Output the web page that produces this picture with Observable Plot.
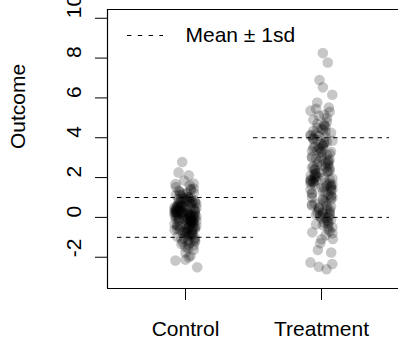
<!DOCTYPE html>
<html>
<head>
<meta charset="utf-8">
<script src="https://cdn.jsdelivr.net/npm/d3@7"></script>
<script src="https://cdn.jsdelivr.net/npm/@observablehq/plot@0.6"></script>
<style>
  html, body { margin: 0; padding: 0; background: #fff; }
  svg { display: block; }
</style>
</head>
<body>
<div id="chart"></div>
<script>
const categories = ["Control", "Treatment"];
const categoryPositions = [1, 2];
const yTicks = [-2, 0, 2, 4, 6, 8, 10];
const yLabel = "Outcome";
const legendLabel = "Mean \u00b1 1sd";
const meanMinusSd = [-1, 0];
const meanPlusSd = [1, 4];

const controlY = [
  0.12, -0.45, 0.83, -0.07, 0.36, -0.91, 0.54, 1.12, -0.28, 0.03,
  -1.34, 0.67, -0.62, 0.21, 1.45, -0.15, 0.48, -0.77, 0.95, -0.38,
  0.09, -1.05, 0.31, 0.72, -0.53, 1.28, -0.19, 0.58, -0.84, 0.14,
  -0.02, 1.03, -1.22, 0.41, -0.66, 0.25, 0.88, -0.31, -0.97, 0.62,
  0.05, -0.47, 1.61, -0.12, 0.37, -1.48, 0.76, -0.24, 0.19, -0.71,
  1.19, 0.44, -0.58, -0.09, 0.99, -1.15, 0.28, 0.66, -0.36, -0.81,
  0.16, 1.34, -0.49, 0.07, -1.28, 0.53, -0.17, 0.85, -0.63, 0.33,
  -0.04, 1.07, -0.95, 0.46, -1.62, 0.22, 0.79, -0.27, 0.11, -0.74,
  1.52, 0.39, -0.55, 0.01, -1.09, 0.61, -0.21, 0.92, -0.42, 0.18,
  1.24, -0.86, 0.47, -0.13, -1.38, 0.71, 0.27, -0.60, 0.04, -0.33,
  1.85, -1.02, 0.56, -0.19, 0.35, -0.70, 0.13, 1.15, -0.44, -1.19,
  0.81, -0.08, 0.42, -0.89, 0.24, 0.68, -1.55, 0.15, -0.26, 0.97,
  -0.51, 0.30, 1.39, -0.11, -0.79, 0.51, -1.12, 0.08, 0.74, -0.35,
  0.20, -0.67, 1.01, -1.41, 0.43, -0.02, 0.87, -0.57, 0.34, -1.25,
  1.21, -0.14, 0.60, -0.40, 0.10, 0.93, -0.85, 0.26, -0.06, 0.50,
  2.78, 2.26, 2.12, 1.68, 1.70, 1.44, -2.17, -2.50, -2.00, -1.76, -1.92, -2.12
];
const controlJitter = [
  0.03, -0.06, 0.07, -0.01, -0.04, 0.05, 0.00, -0.07, 0.02, 0.06,
  -0.03, 0.04, -0.08, 0.01, 0.06, -0.05, 0.08, -0.02, 0.03, -0.06,
  0.05, -0.01, -0.07, 0.07, 0.02, -0.04, 0.06, -0.03, 0.00, 0.04,
  -0.05, 0.02, 0.07, -0.08, 0.05, -0.02, 0.01, 0.06, -0.06, -0.03,
  0.08, -0.04, 0.03, 0.05, -0.07, 0.00, -0.05, 0.04, 0.07, -0.01,
  -0.02, 0.06, -0.06, 0.02, 0.04, 0.07, -0.08, -0.03, 0.01, 0.05,
  0.00, -0.05, 0.06, -0.07, 0.03, -0.02, 0.08, 0.01, -0.04, 0.07,
  0.04, -0.03, 0.02, -0.06, 0.06, -0.08, 0.03, 0.05, -0.01, 0.00,
  -0.07, 0.01, 0.05, 0.07, -0.03, -0.06, 0.04, -0.05, 0.08, 0.02,
  0.06, 0.03, -0.04, 0.00, 0.02, 0.05, -0.07, 0.07, -0.02, -0.08,
  -0.01, 0.07, -0.06, 0.04, -0.05, 0.01, 0.06, -0.04, 0.03, 0.02,
  0.05, -0.07, 0.00, 0.03, -0.03, 0.08, 0.02, -0.06, 0.04, -0.01,
  0.07, -0.02, 0.04, -0.05, 0.01, -0.08, 0.06, 0.03, -0.04, 0.00,
  -0.06, 0.05, 0.02, 0.06, -0.07, 0.04, -0.03, 0.01, 0.07, -0.02,
  0.01, 0.06, -0.05, 0.03, -0.08, -0.01, 0.05, -0.06, 0.02, 0.04,
  -0.024, -0.051, 0.024, -0.074, 0.059, 0.037, -0.074, 0.086, 0.024, 0.0, 0.037, 0.0
];
const treatmentY = [
  2.10, 0.40, 3.60, 1.20, 4.30, -0.20, 2.80, 1.70, 0.90, 3.10,
  5.00, 2.40, -0.50, 1.50, 3.90, 0.10, 2.60, 4.70, 1.90, 0.60,
  3.30, -0.90, 2.20, 1.10, 4.10, 0.30, 2.90, 1.80, 3.50, -0.30,
  1.40, 4.50, 2.00, 0.70, 3.80, 1.60, -1.30, 2.50, 0.00, 3.20,
  4.90, 1.30, 2.70, 0.50, 1.90, 3.70, -0.10, 2.30, 4.20, 0.80,
  1.75, 3.00, 5.30, 0.20, 2.15, 1.00, 3.40, -0.60, 2.60, 4.00,
  1.55, 0.35, 3.15, 1.85, 4.60, -0.35, 2.45, 0.95, 3.55, 1.25,
  0.05, 2.85, 4.35, 1.65, -1.10, 2.05, 3.75, 0.65, 1.45, 4.80,
  2.35, 0.15, 3.25, 1.90, -0.45, 2.75, 4.15, 1.05, 3.60, 0.45,
  2.20, 5.15, 1.35, -0.15, 3.05, 1.70, 4.45, 0.25, 2.55, 3.85,
  0.85, 1.80, 4.05, -0.70, 2.95, 1.15, 3.45, 0.55, 2.00, 4.65,
  1.60, -0.05, 3.35, 2.30, 0.75, 5.10, 1.95, 3.95, 0.10, 2.65,
  1.40, 4.25, -0.25, 1.85, 3.00, 0.30, 2.40, 4.55, 1.20, 0.00,
  3.70, 1.75, 2.80, -0.40, 4.10, 0.60, 2.10, 3.30, 1.50, 5.45,
  0.20, 2.50, 3.90, 1.00, -0.80, 1.65, 4.40, 0.40, 2.25, 3.50,
  8.25, 7.78, 6.90, 6.53, 6.16, 5.77, 5.36, 5.52, -2.26, -2.48, -2.60, -2.34, -1.64, -1.76, -1.08, -0.75
];
const treatmentJitter = [
  -0.04, 0.06, 0.01, -0.07, 0.03, 0.05, -0.02, -0.08, 0.07, 0.00,
  0.04, -0.05, 0.08, 0.02, -0.06, -0.01, 0.05, -0.03, 0.06, -0.07,
  0.00, 0.03, -0.04, 0.07, -0.08, 0.01, 0.06, -0.06, -0.02, 0.05,
  0.08, -0.03, 0.02, -0.05, 0.04, 0.07, -0.01, -0.07, 0.03, 0.06,
  -0.06, 0.01, 0.05, -0.02, -0.08, 0.00, 0.07, 0.04, -0.04, 0.02,
  0.03, -0.07, 0.06, 0.01, -0.05, 0.08, -0.03, 0.05, 0.00, -0.06,
  0.07, -0.02, 0.04, -0.08, 0.02, -0.04, 0.06, 0.01, -0.05, 0.03,
  -0.01, 0.05, -0.06, 0.08, 0.00, -0.03, 0.02, -0.07, 0.07, 0.04,
  0.06, -0.04, 0.00, -0.06, 0.05, 0.03, -0.08, 0.07, 0.01, -0.02,
  -0.05, 0.02, 0.07, 0.04, -0.07, 0.06, 0.00, -0.03, -0.06, 0.08,
  0.01, -0.08, 0.03, 0.06, -0.04, 0.05, -0.01, 0.07, -0.05, 0.02,
  0.04, 0.00, -0.07, 0.05, 0.03, -0.02, 0.08, -0.06, 0.06, -0.03,
  -0.08, 0.07, 0.02, -0.04, 0.00, 0.06, -0.05, 0.03, -0.07, 0.05,
  0.02, -0.06, 0.05, 0.01, -0.02, 0.04, -0.08, 0.07, 0.00, -0.04,
  0.06, 0.03, -0.03, -0.07, 0.08, -0.05, 0.01, 0.04, -0.01, -0.06,
  0.010, 0.046, -0.015, 0.010, 0.079, -0.032, -0.081, 0.054, -0.081, -0.020, 0.037, 0.079, -0.027, 0.071, 0.083, -0.068
];

const groupY = [controlY, treatmentY];
const groupJitter = [controlJitter, treatmentJitter];
const points = categories.flatMap((c, g) =>
  groupY[g].map((y, i) => ({group: c, x: categoryPositions[g] + groupJitter[g][i], y}))
);
const segments = categories.flatMap((c, g) => [
  {x1: categoryPositions[g] - 0.5, x2: categoryPositions[g] + 0.5, y: meanMinusSd[g]},
  {x1: categoryPositions[g] - 0.5, x2: categoryPositions[g] + 0.5, y: meanPlusSd[g]}
]);

const xDomain = [0.4265, 2.566];
const yDomain = [-3.57, 10.44];
const FONT = 21;
const dash = "4.4,4.5";

const chart = Plot.plot({
  width: 398,
  height: 338,
  marginLeft: 107,
  marginRight: 0,
  marginTop: 9,
  marginBottom: 50,
  x: {type: "linear", domain: xDomain, axis: null},
  y: {type: "linear", domain: yDomain, axis: null},
  style: {fontFamily: "'Liberation Sans', Arial, Helvetica, sans-serif", fontSize: FONT + "px", background: "#fff", color: "#000", overflow: "visible"},
  marks: [
    Plot.dot(points, {x: "x", y: "y", r: 5.3, fill: "#000", fillOpacity: 0.22, stroke: "none"}),
    Plot.ruleY(segments, {x1: "x1", x2: "x2", y: "y", stroke: "#000", strokeWidth: 1, strokeDasharray: dash}),
    Plot.ruleX([xDomain[0]], {stroke: "#000", strokeWidth: 1.2}),
    Plot.ruleY([yDomain[0], yDomain[1]], {stroke: "#000", strokeWidth: 1.2}),
    Plot.axisX({ticks: categoryPositions, tickFormat: d => categories[categoryPositions.indexOf(d)], tickSize: 12, tickPadding: 20.6, fontSize: FONT, label: null, stroke: "#000"}),
    Plot.axisY({ticks: yTicks, tickSize: 12, tickFormat: () => "", label: null, stroke: "#000"}),
    Plot.text(yTicks, {y: d => d, text: d => String(d), frameAnchor: "left", dx: -33, rotate: -90, lineAnchor: "middle", fontSize: FONT, fill: "#000"}),
    Plot.text([yLabel], {frameAnchor: "left", dx: -89.5, rotate: -90, lineAnchor: "middle", fontSize: FONT, fill: "#000"}),
    Plot.text([legendLabel], {frameAnchor: "top-left", dx: 78, dy: 26, textAnchor: "start", lineAnchor: "middle", fontSize: FONT, fill: "#000"})
  ]
});

// legend key: dashed line, positioned relative to the plot frame
d3.select(chart).append("line")
  .attr("x1", 107 + 20).attr("x2", 107 + 56)
  .attr("y1", 9 + 26.5).attr("y2", 9 + 26.5)
  .attr("stroke", "#000").attr("stroke-width", 1)
  .attr("stroke-dasharray", "4.4,6.4");

document.getElementById("chart").appendChild(chart);
</script>
</body>
</html>
